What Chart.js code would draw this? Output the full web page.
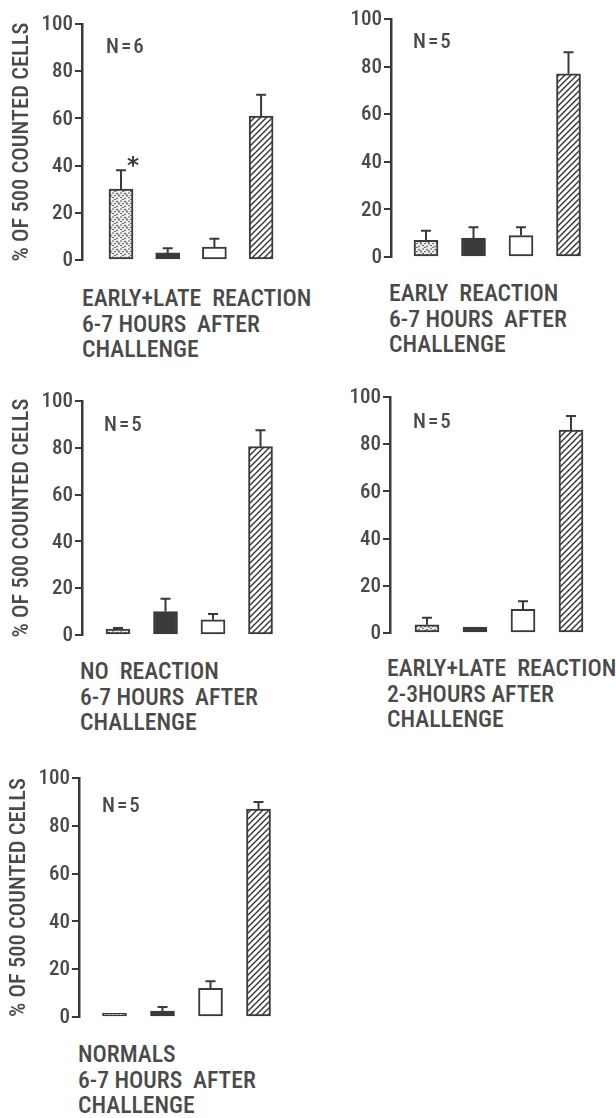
<!DOCTYPE html>
<html><head><meta charset="utf-8">
<script src="https://cdn.jsdelivr.net/npm/chart.js@4.4.1/dist/chart.umd.min.js"></script>
<style>
html,body{margin:0;padding:0;background:#fff;}
body{width:616px;height:1118px;position:relative;overflow:hidden;}
canvas{position:absolute;}
.cap{position:absolute;font-family:"Roboto Condensed","DejaVu Sans Condensed",sans-serif;font-weight:500;font-size:23.7px;color:#4a4a4a;white-space:pre;line-height:25.5px;}
</style></head><body>
<script>
// ---------- data ----------
const categories = ['Stippled', 'Solid', 'Open', 'Hatched'];
const nLabels = ['N=6', 'N=5', 'N=5', 'N=5', 'N=5'];
const p1Values = [30, 3, 5.5, 61];
const p1Errors = [8, 2, 3.5, 9];
const p2Values = [7, 8, 9, 77];
const p2Errors = [4, 4.5, 3.5, 9];
const p3Values = [2.5, 10, 6.5, 80.5];
const p3Errors = [0.5, 5.5, 2.5, 7];
const p4Values = [3.5, 2.5, 10, 86];
const p4Errors = [3, 0, 3.5, 6];
const p5Values = [1.5, 2.5, 12, 87];
const p5Errors = [0, 1.7, 3, 3];
const p1Marks = ['*', '', '', ''];
const noMarks = ['', '', '', ''];
const yTicks = [0, 20, 40, 60, 80, 100];
const yTitle = '% OF 500 COUNTED CELLS';
const caption1 = ['EARLY+LATE  REACTION', '6-7 HOURS  AFTER', 'CHALLENGE'];
const caption2 = ['EARLY  REACTION', '6-7 HOURS  AFTER', 'CHALLENGE'];
const caption3 = ['NO  REACTION', '6-7 HOURS  AFTER', 'CHALLENGE'];
const caption4 = ['EARLY+LATE  REACTION', '2-3HOURS AFTER', 'CHALLENGE'];
const caption5 = ['NORMALS', '6-7 HOURS  AFTER', 'CHALLENGE'];

// ---------- layout ----------
const INK = '#3a3a3a';
const TXT = '#4a4a4a';
const FAM = '"Roboto Condensed", "DejaVu Sans Condensed", sans-serif';
const panels = [
  {values:p1Values, errors:p1Errors, marks:p1Marks, n:nLabels[0], caption:caption1, title:true,
   cl:0, ct:0, cw:300, ch:275, axisX:82, top:24, bottom:260, xOff:39, step:46.7, nDx:24, nDy:24, capX:82, capY:286},
  {values:p2Values, errors:p2Errors, marks:noMarks, n:nLabels[1], caption:caption2, title:false,
   cl:310, ct:0, cw:300, ch:275, axisX:391, top:19, bottom:257, xOff:35, step:47.5, nDx:22, nDy:24, capX:389, capY:281},
  {values:p3Values, errors:p3Errors, marks:noMarks, n:nLabels[2], caption:caption3, title:true,
   cl:0, ct:375, cw:300, ch:275, axisX:82, top:401, bottom:635, xOff:36, step:47.5, nDx:22, nDy:25, capX:80, capY:659},
  {values:p4Values, errors:p4Errors, marks:noMarks, n:nLabels[3], caption:caption4, title:false,
   cl:310, ct:375, cw:300, ch:275, axisX:390, top:397, bottom:633, xOff:37, step:48, nDx:23, nDy:26, capX:387, capY:656},
  {values:p5Values, errors:p5Errors, marks:noMarks, n:nLabels[4], caption:caption5, title:true,
   cl:0, ct:755, cw:300, ch:280, axisX:79, top:778, bottom:1017, xOff:35.5, step:48, nDx:23, nDy:29, capX:78, capY:1042}
];

// ---------- patterns ----------
function makeStipple() {
  const c = document.createElement('canvas'); c.width = 8; c.height = 8;
  const g = c.getContext('2d');
  g.fillStyle = '#f0f0f0'; g.fillRect(0, 0, 8, 8);
  g.fillStyle = '#444';
  const dots = [[1,1],[5,1.5],[3,3.5],[7,4],[1,5.5],[5,6.5],[3,7.5],[6.5,2.8]];
  dots.forEach(([x,y]) => { g.beginPath(); g.arc(x, y, 0.8, 0, Math.PI*2); g.fill(); });
  return g.createPattern(c, 'repeat');
}
function makeHatch() {
  const s = 6;
  const c = document.createElement('canvas'); c.width = s; c.height = s;
  const g = c.getContext('2d');
  g.fillStyle = '#fff'; g.fillRect(0, 0, s, s);
  g.strokeStyle = '#333'; g.lineWidth = 1.4;
  g.beginPath();
  g.moveTo(0, s); g.lineTo(s, 0);
  g.moveTo(-1, 1); g.lineTo(1, -1);
  g.moveTo(s-1, s+1); g.lineTo(s+1, s-1);
  g.stroke();
  return g.createPattern(c, 'repeat');
}
const fills = [makeStipple(), INK, '#ffffff', makeHatch()];

// ---------- plugin: axis text, error bars, marks, N label ----------
const extras = {
  id: 'extras',
  afterDatasetsDraw(chart, args, opts) {
    const ctx = chart.ctx;
    const ys = chart.scales.y;
    const meta = chart.getDatasetMeta(0);
    ctx.save();
    ctx.strokeStyle = INK; ctx.lineWidth = 2;
    meta.data.forEach((bar, i) => {
      const v = opts.values[i], e = opts.errors[i];
      const yTop = ys.getPixelForValue(v + e);
      if (e > 0) {
        ctx.beginPath();
        ctx.moveTo(bar.x, bar.y); ctx.lineTo(bar.x, yTop);
        ctx.moveTo(bar.x - 5, yTop); ctx.lineTo(bar.x + 5, yTop);
        ctx.stroke();
      }
      if (opts.marks[i]) {
        ctx.fillStyle = INK;
        ctx.font = 'bold 23px "DejaVu Sans", sans-serif';
        ctx.textAlign = 'center'; ctx.textBaseline = 'middle';
        ctx.fillText(opts.marks[i], bar.x + 12, yTop - 3);
      }
    });
    ctx.fillStyle = TXT;
    // N label
    ctx.font = '500 21px ' + FAM;
    ctx.letterSpacing = '2px';
    ctx.textAlign = 'left'; ctx.textBaseline = 'middle';
    ctx.fillText(opts.n, chart.chartArea.left + opts.nDx, chart.chartArea.top + opts.nDy);
    ctx.letterSpacing = '0px';
    // tick labels
    ctx.font = '500 21px ' + FAM;
    ctx.textAlign = 'right'; ctx.textBaseline = 'middle';
    yTicks.forEach(v => {
      ctx.fillText(String(v), ys.right - 9, ys.getPixelForValue(v) + 1);
    });
    // axis title
    if (opts.title) {
      ctx.save();
      ctx.translate(ys.right - 60, (ys.top + ys.bottom) / 2);
      ctx.rotate(-Math.PI / 2);
      ctx.font = '500 22.5px ' + FAM;
      ctx.textAlign = 'center'; ctx.textBaseline = 'middle';
      ctx.fillText(opts.titleText, 0, 0);
      ctx.restore();
    }
    ctx.restore();
  }
};

// ---------- build ----------
panels.forEach(p => {
  const cv = document.createElement('canvas');
  cv.width = p.cw; cv.height = p.ch;
  cv.style.left = p.cl + 'px'; cv.style.top = p.ct + 'px';
  cv.style.width = p.cw + 'px'; cv.style.height = p.ch + 'px';
  document.body.appendChild(cv);

  const xMin = 1 - p.xOff / p.step;
  const xMax = xMin + (p.cl + p.cw - p.axisX) / p.step;

  new Chart(cv, {
    type: 'bar',
    data: {
      labels: categories,
      datasets: [{
        data: p.values.map((v, i) => ({x: i + 1, y: v})),
        backgroundColor: fills,
        borderColor: INK,
        borderWidth: 2,
        borderSkipped: false,
        barThickness: 24
      }]
    },
    options: {
      responsive: false,
      maintainAspectRatio: false,
      animation: false,
      devicePixelRatio: 1,
      events: [],
      layout: {padding: {top: p.top - p.ct, bottom: p.ct + p.ch - p.bottom, left: 0, right: 0}},
      plugins: {
        legend: {display: false}, tooltip: {enabled: false},
        extras: {values: p.values, errors: p.errors, marks: p.marks, n: p.n, nDx: p.nDx, nDy: p.nDy,
                 title: p.title, titleText: yTitle}
      },
      scales: {
        x: {type: 'linear', display: false, offset: false, min: xMin, max: xMax},
        y: {
          min: 0, max: 100,
          afterBuildTicks: s => { s.ticks = yTicks.map(v => ({value: v})); },
          afterFit: s => { s.width = p.axisX - p.cl; },
          grid: {display: true, drawOnChartArea: false, drawTicks: true, tickLength: 7, color: INK, lineWidth: 2},
          border: {display: true, color: INK, width: 2.5},
          ticks: {display: false},
          title: {display: false}
        }
      }
    },
    plugins: [extras]
  });

  const cap = document.createElement('div');
  cap.className = 'cap';
  cap.style.left = p.capX + 'px'; cap.style.top = p.capY + 'px';
  cap.textContent = p.caption.join('\n');
  document.body.appendChild(cap);
});
</script>
</body></html>
